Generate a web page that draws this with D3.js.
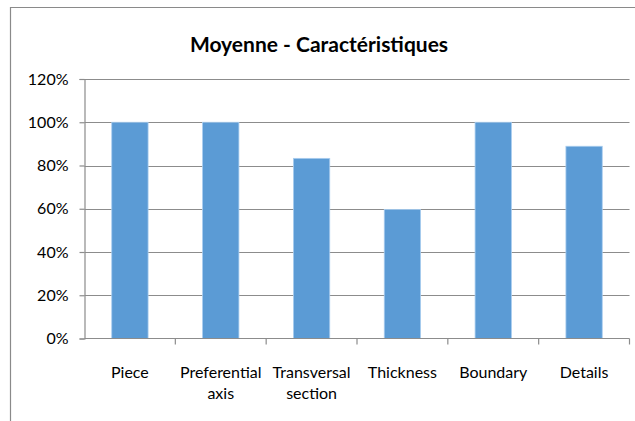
<!DOCTYPE html>
<html>
<head>
<meta charset="utf-8">
<script src="https://cdn.jsdelivr.net/npm/d3@7"></script>
<style>
  html, body { margin: 0; padding: 0; background: #fff; }
  svg { display: block; }
  text { font-family: Lato, "Open Sans", sans-serif; fill: #000; }
</style>
</head>
<body>
<svg id="chart" width="635" height="421"></svg>
<script>
// Chart content
const title = "Moyenne - Caractéristiques";
const categories = [
  ["Piece"],
  ["Preferential", "axis"],
  ["Transversal", "section"],
  ["Thickness"],
  ["Boundary"],
  ["Details"]
];
const values = [1.0, 1.0, 0.833, 0.597, 1.0, 0.889];
const yTicks = [0, 0.2, 0.4, 0.6, 0.8, 1.0, 1.2];

const svg = d3.select("#chart");
const plot = { left: 84.5, right: 629.5, top: 79, bottom: 338.5 };

// Outer chart frame (top and left edges visible)
svg.append("path")
  .attr("d", "M10.5,421 V7.5 H635")
  .attr("fill", "none")
  .attr("stroke", "#8a8a8a")
  .attr("stroke-width", 1.2);

svg.append("text")
  .attr("x", 319)
  .attr("y", 52)
  .attr("text-anchor", "middle")
  .attr("font-size", 21)
  .attr("font-weight", "bold")
  .text(title);

const x = d3.scaleBand()
  .domain(d3.range(categories.length))
  .range([plot.left, plot.right])
  .paddingInner(0.6)
  .paddingOuter(0.3);

const xBounds = d3.scaleLinear()
  .domain([0, categories.length])
  .range([plot.left, plot.right]);

const y = d3.scaleLinear()
  .domain([0, 1.2])
  .range([plot.bottom, plot.top]);

// Horizontal gridlines
svg.append("g")
  .selectAll("line")
  .data(yTicks.filter(d => d > 0))
  .join("line")
  .attr("x1", plot.left)
  .attr("x2", plot.right)
  .attr("y1", d => Math.round(y(d)) + 0.5)
  .attr("y2", d => Math.round(y(d)) + 0.5)
  .attr("stroke", "#8c8c8c")
  .attr("stroke-width", 1.2);

// Y axis
const yAxis = svg.append("g")
  .attr("transform", `translate(${plot.left},0)`)
  .call(d3.axisLeft(y).tickValues(yTicks).tickFormat(d3.format(".0%")).tickSize(5).tickPadding(11));
yAxis.select(".domain").attr("stroke", "#8c8c8c").attr("stroke-width", 1.2);
yAxis.selectAll(".tick line").attr("stroke", "#8c8c8c").attr("stroke-width", 1.2);
yAxis.selectAll(".tick text").attr("font-size", 16).attr("fill", "#000")
  .style("font-family", "Lato, 'Open Sans', sans-serif");

// Bars
svg.append("g")
  .selectAll("rect")
  .data(values)
  .join("rect")
  .attr("x", (d, i) => x(i))
  .attr("width", x.bandwidth())
  .attr("y", d => y(d))
  .attr("height", d => y(0) - y(d))
  .attr("fill", "#5b9bd5")
  .attr("stroke", "#a9cdef")
  .attr("stroke-width", 0.8);

// X axis line and category boundary ticks
svg.append("line")
  .attr("x1", plot.left).attr("x2", plot.right)
  .attr("y1", plot.bottom).attr("y2", plot.bottom)
  .attr("stroke", "#8c8c8c").attr("stroke-width", 1.2);

svg.append("g")
  .selectAll("line")
  .data(d3.range(1, categories.length + 1))
  .join("line")
  .attr("x1", d => xBounds(d)).attr("x2", d => xBounds(d))
  .attr("y1", plot.bottom).attr("y2", plot.bottom + 6)
  .attr("stroke", "#8c8c8c").attr("stroke-width", 1.2);

// Category labels
const labels = svg.append("g")
  .selectAll("text")
  .data(categories)
  .join("text")
  .attr("x", (d, i) => x(i) + x.bandwidth() / 2)
  .attr("y", 378)
  .attr("text-anchor", "middle")
  .attr("font-size", 16);
labels.selectAll("tspan")
  .data(d => d)
  .join("tspan")
  .attr("x", function () { return d3.select(this.parentNode).attr("x"); })
  .attr("dy", (d, i) => i === 0 ? 0 : 21)
  .text(d => d);
</script>
</body>
</html>
